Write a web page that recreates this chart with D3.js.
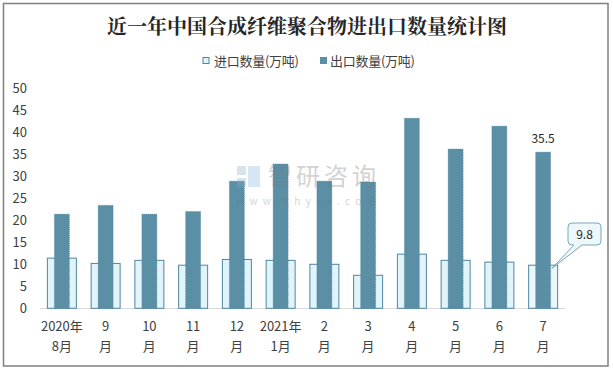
<!DOCTYPE html>
<html><head><meta charset="utf-8">
<script src="https://cdn.jsdelivr.net/npm/d3@7"></script>
<style>body{margin:0;background:#fff}svg{display:block}</style>
</head><body>
<script>
const categories = [["2020年","8月"],["9","月"],["10","月"],["11","月"],["12","月"],["2021年","1月"],["2","月"],["3","月"],["4","月"],["5","月"],["6","月"],["7","月"]];
const importValues = [11.4, 10.2, 10.9, 9.8, 11.1, 10.9, 10.0, 7.5, 12.3, 10.9, 10.5, 9.8];
const exportValues = [21.4, 23.4, 21.4, 22.0, 28.9, 32.8, 28.9, 28.7, 43.2, 36.2, 41.4, 35.5];
const yTicks = [0,5,10,15,20,25,30,35,40,45,50];
const seriesNames = ["进口数量(万吨)","出口数量(万吨)"];
const title = "近一年中国合成纤维聚合物进出口数量统计图";

const W=613,H=370;
const svg=d3.select("body").append("svg").attr("width",W).attr("height",H);
const font="'Microsoft YaHei','Noto Sans CJK SC','Noto Sans',sans-serif";
svg.append("rect").attr("x",3.5).attr("y",3.5).attr("width",604.5).attr("height",362.5).attr("fill","#fff").attr("stroke","#7f7f7f").attr("stroke-width",1.5);

svg.append("text").attr("x",307).attr("y",34).attr("text-anchor","middle")
  .style("font-family","'Noto Serif CJK SC','Noto Sans CJK SC',serif").style("font-weight","bold").style("font-size","20px").attr("fill","#262626").text(title);

const x=d3.scaleBand().domain(d3.range(categories.length)).range([40,565]);
const y=d3.scaleLinear().domain([0,50]).range([308.3,88.3]);

// axis line
svg.append("line").attr("x1",40).attr("x2",565).attr("y1",308.5).attr("y2",308.5).attr("stroke","#d9d9d9").attr("stroke-width",1.2);

// y labels
svg.append("g").selectAll("text").data(yTicks).join("text")
  .attr("x",27).attr("y",d=>y(d)+4.5).attr("text-anchor","end")
  .style("font-family",font).style("font-size","13px").attr("fill","#404040").text(d=>d);

const cx=i=>x(i)+x.bandwidth()/2;
// import bars
svg.append("g").selectAll("rect").data(importValues).join("rect")
  .attr("x",(d,i)=>cx(i)-14.5).attr("width",29)
  .attr("y",d=>y(d)).attr("height",d=>y(0)-y(d))
  .attr("fill",(d,i)=>i===11?"#eaf6f9":"#e0f4fa").attr("stroke","#4f86a0").attr("stroke-width",1);
// export bars
svg.append("g").selectAll("rect").data(exportValues).join("rect")
  .attr("x",(d,i)=>cx(i)-7.5).attr("width",15)
  .attr("y",d=>y(d)).attr("height",d=>y(0)-y(d))
  .attr("fill","#5b8fa6").attr("stroke","#4f86a0").attr("stroke-width",0.6).attr("stroke-dasharray","1,1");

// watermark (on top)
const wm=svg.append("g").attr("opacity",0.32);
wm.append("rect").attr("x",237).attr("y",166).attr("width",9).attr("height",9).attr("fill","#8fa6c8");
wm.append("rect").attr("x",248).attr("y",166).attr("width",12).attr("height",21).attr("fill","#7fb8e0");
wm.append("rect").attr("x",237).attr("y",178).attr("width",9).attr("height",9).attr("fill","#8fa6c8");
wm.append("text").attr("x",268).attr("y",185).attr("textLength",108).style("font-family",font).style("font-size","24px").attr("fill","#777").text("智研咨询");
wm.append("text").attr("x",236).attr("y",205).attr("textLength",140).style("font-family",font).style("font-size","10px").attr("fill","#777").text("www.chyxx.com");

// x labels
const xl=svg.append("g").selectAll("text").data(categories).join("text")
  .attr("text-anchor","middle").style("font-family",font).style("font-size","13px").attr("fill","#404040");
xl.each(function(d,i){
  const t=d3.select(this);
  t.append("tspan").attr("x",cx(i)).attr("y",331).text(d[0]);
  t.append("tspan").attr("x",cx(i)).attr("y",351).text(d[1]);
});

// data label 35.5
const li=11;
svg.append("text").attr("x",cx(li)).attr("y",y(exportValues[li])-9).attr("text-anchor","middle")
  .style("font-family",font).style("font-size","12px").attr("fill","#262626").text(exportValues[li]);

// callout 9.8
const bx=568,by=223,bw=33,bh=22;
const px=cx(li)+9, py=y(importValues[li])+3;
svg.append("path").attr("d",`M${bx+4},${by} H${bx+bw-4} Q${bx+bw},${by} ${bx+bw},${by+4} V${by+bh-4} Q${bx+bw},${by+bh} ${bx+bw-4},${by+bh} H${bx+14} L${px},${py} L${bx+6},${by+bh} H${bx+4} Q${bx},${by+bh} ${bx},${by+bh-4} V${by+4} Q${bx},${by} ${bx+4},${by} Z`)
  .attr("fill","#eef8fa").attr("stroke","#7aa6ba").attr("stroke-width",1);
svg.append("text").attr("x",bx+bw/2).attr("y",by+15.5).attr("text-anchor","middle")
  .style("font-family",font).style("font-size","12px").attr("fill","#262626").text(importValues[li]);

// legend
const lg=svg.append("g");
lg.append("rect").attr("x",203).attr("y",57.5).attr("width",6).attr("height",6).attr("fill","#e0f4fa").attr("stroke","#4f86a0");
lg.append("text").attr("x",214).attr("y",65.5).attr("textLength",85).style("font-family",font).style("font-size","13px").attr("fill","#404040").text(seriesNames[0]);
lg.append("rect").attr("x",320).attr("y",57).attr("width",7).attr("height",7).attr("fill","#5b8fa6");
lg.append("text").attr("x",330).attr("y",65.5).attr("textLength",85).style("font-family",font).style("font-size","13px").attr("fill","#404040").text(seriesNames[1]);
</script>
</body></html>
